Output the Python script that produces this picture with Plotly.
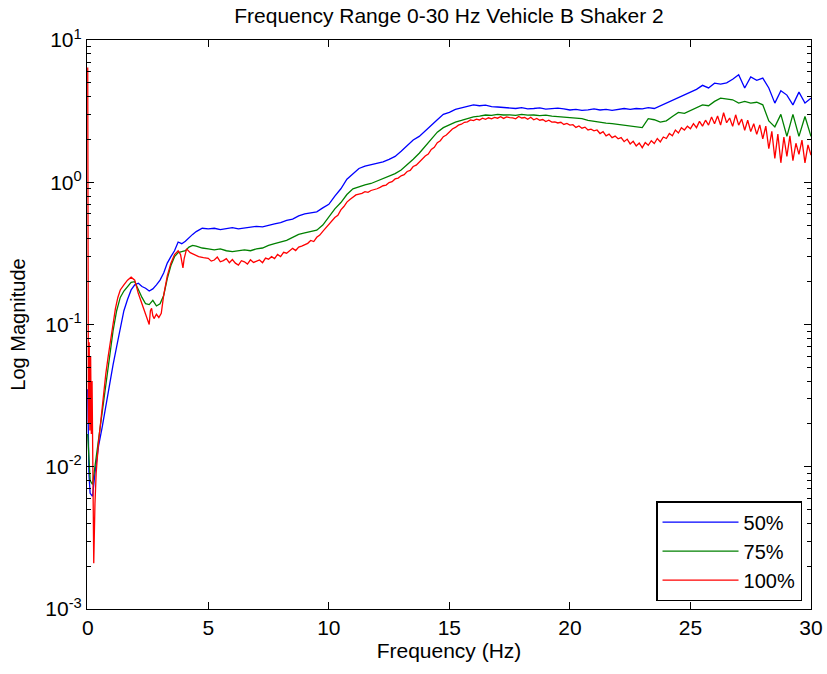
import plotly.graph_objects as go

# ---------------- data ----------------
freq_low = [0, 0.05, 0.1, 0.2, 0.3, 0.45, 0.6, 0.75, 0.9, 1.05,
            1.2, 1.35, 1.5, 1.65, 1.8, 1.95, 2.1, 2.25, 2.4, 2.55,
            2.7, 2.85, 3.0, 3.15, 3.3, 3.45, 3.6, 3.75, 3.9, 4.05,
            4.2, 4.35, 4.5, 4.75]
freq_high = [5.0 + 0.25 * i for i in range(101)]
freq_bg = freq_low + freq_high

mag_50 = [
    0.035, 0.009, 0.0065, 0.0062, 0.009, 0.014, 0.019, 0.027, 0.038, 0.052,
    0.07, 0.095, 0.125, 0.15, 0.175, 0.19, 0.195, 0.185, 0.18, 0.172,
    0.178, 0.19, 0.205, 0.23, 0.27, 0.3, 0.33, 0.38, 0.37, 0.385,
    0.41, 0.43, 0.45, 0.475,
    # 5.0 - 7.25
    0.47, 0.475, 0.465, 0.47, 0.48, 0.47, 0.475, 0.48, 0.49, 0.485,
    # 7.5 - 9.75
    0.5, 0.51, 0.52, 0.54, 0.55, 0.58, 0.6, 0.61, 0.62, 0.66,
    # 10 - 12.25
    0.7, 0.8, 0.9, 1.05, 1.15, 1.25, 1.3, 1.33, 1.36, 1.39,
    # 12.5 - 14.75
    1.45, 1.52, 1.65, 1.8, 1.98, 2.1, 2.3, 2.55, 2.75, 3.0,
    # 15 - 17.25
    3.1, 3.25, 3.35, 3.42, 3.5, 3.45, 3.48, 3.4, 3.38, 3.35,
    # 17.5 - 19.75
    3.32, 3.3, 3.35, 3.28, 3.3, 3.33, 3.27, 3.3, 3.32, 3.28,
    # 20 - 22.25
    3.22, 3.25, 3.2, 3.23, 3.28, 3.22, 3.25, 3.2, 3.27, 3.3,
    # 22.5 - 24.75
    3.25, 3.3, 3.28, 3.35, 3.3, 3.45, 3.6, 3.8, 3.95, 4.15,
    # 25 - 27.25
    4.3, 4.5, 4.8, 4.6, 4.97, 4.9, 5.0, 5.3, 5.7, 4.6,
    # 27.5 - 29.75
    5.5, 5.2, 5.4, 4.6, 3.6, 4.4, 4.1, 3.5, 4.3, 3.6,
    # 30
    3.9,
]

mag_75 = [
    0.017, 0.01, 0.008, 0.0075, 0.01, 0.016, 0.024, 0.037, 0.055, 0.09,
    0.125, 0.155, 0.172, 0.185, 0.198, 0.2, 0.175, 0.155, 0.14, 0.138,
    0.148, 0.135, 0.14, 0.16, 0.21, 0.26, 0.3, 0.32, 0.325, 0.33,
    0.35, 0.36, 0.355, 0.345,
    # 5.0 - 7.25
    0.34, 0.335, 0.34, 0.33, 0.325, 0.33, 0.335, 0.33, 0.34, 0.345,
    # 7.5 - 9.75
    0.36, 0.37, 0.38, 0.39, 0.41, 0.43, 0.44, 0.45, 0.46, 0.5,
    # 10 - 12.25
    0.57, 0.65, 0.72, 0.82, 0.9, 0.93, 0.96, 0.98, 1.02, 1.05,
    # 12.5 - 14.75
    1.1, 1.15, 1.22, 1.32, 1.45, 1.6, 1.8, 2.0, 2.25, 2.42,
    # 15 - 17.25
    2.55, 2.65, 2.72, 2.8, 2.88, 2.92, 2.97, 2.95, 3.0, 2.97,
    # 17.5 - 19.75
    2.98, 2.95, 3.0, 2.96, 2.97, 2.94, 2.96, 2.92, 2.9, 2.88,
    # 20 - 22.25
    2.85, 2.82, 2.8, 2.72, 2.68, 2.62, 2.6, 2.58, 2.55, 2.5,
    # 22.5 - 24.75
    2.48, 2.45, 2.42, 2.8, 2.75, 2.65, 2.7, 2.9, 3.1, 3.05,
    # 25 - 27.25
    3.2, 3.35, 3.5, 3.45, 3.7, 3.9, 3.85, 3.8, 3.6, 3.7,
    # 27.5 - 29.75
    3.6, 3.65, 3.5, 2.7, 2.45, 3.0, 2.1, 3.0, 2.1, 2.9,
    # 30
    2.1,
]

freq_red_low = [0, 0.03, 0.06, 0.09, 0.12, 0.15, 0.18, 0.21, 0.25, 0.3,
                0.35, 0.45, 0.55, 0.65, 0.75, 0.85, 0.95, 1.05, 1.15, 1.25,
                1.35, 1.5, 1.65, 1.8, 1.95, 2.1, 2.25, 2.4, 2.5, 2.55,
                2.6, 2.65, 2.7, 2.75, 2.85, 2.95, 3.05, 3.15, 3.3, 3.45,
                3.6, 3.75, 3.85, 3.95, 4.0, 4.1, 4.25, 4.4, 4.6, 4.8]
freq_red_high = [5.0 + 0.125 * i for i in range(201)]
freq_red = freq_red_low + freq_red_high

mag_100 = [
    6.4, 0.02, 0.075, 0.018, 0.06, 0.017, 0.04, 0.012, 0.0021, 0.0055,
    0.009, 0.015, 0.022, 0.032, 0.045, 0.06, 0.078, 0.095, 0.13, 0.155,
    0.175, 0.19, 0.205, 0.215, 0.205, 0.165, 0.14, 0.12, 0.105, 0.1,
    0.125, 0.13, 0.115, 0.11, 0.118, 0.112, 0.12, 0.16, 0.22, 0.27,
    0.31, 0.33, 0.31, 0.25, 0.29, 0.34, 0.32, 0.31, 0.3, 0.295,
    # 5
    0.292, 0.279, 0.284, 0.298, 0.276, 0.281, 0.29, 0.272,
    # 6
    0.286, 0.27, 0.262, 0.281, 0.276, 0.266, 0.285, 0.273,
    # 7
    0.277, 0.284, 0.272, 0.293, 0.288, 0.3, 0.291, 0.311,
    # 8
    0.3, 0.322, 0.317, 0.33, 0.343, 0.331, 0.35, 0.356,
    # 9
    0.364, 0.372, 0.39, 0.383, 0.41, 0.425, 0.452, 0.478,
    # 10
    0.5, 0.525, 0.565, 0.585, 0.64, 0.675, 0.725, 0.755,
    # 11
    0.785, 0.815, 0.825, 0.835, 0.86, 0.85, 0.875, 0.885,
    # 12
    0.9, 0.92, 0.945, 0.955, 0.995, 1.01, 1.055, 1.07,
    # 13
    1.11, 1.13, 1.19, 1.21, 1.29, 1.32, 1.39, 1.44,
    # 14
    1.53, 1.58, 1.7, 1.76, 1.9, 1.96, 2.09, 2.15,
    # 15
    2.27, 2.37, 2.43, 2.52, 2.56, 2.64, 2.66, 2.74,
    # 16
    2.71, 2.78, 2.74, 2.82, 2.77, 2.84, 2.79, 2.86,
    # 17
    2.82, 2.89, 2.81, 2.88, 2.85, 2.84, 2.79, 2.9,
    # 18
    2.83, 2.85, 2.77, 2.86, 2.75, 2.81, 2.73, 2.76,
    # 19
    2.67, 2.73, 2.65, 2.66, 2.61, 2.64, 2.55, 2.59,
    # 20
    2.52, 2.54, 2.43, 2.49, 2.4, 2.44, 2.33, 2.36,
    # 21
    2.3, 2.33, 2.2, 2.27, 2.12, 2.18, 2.06, 2.11,
    # 22
    2.02, 2.06, 1.93, 2.01, 1.86, 1.94, 1.8, 1.89,
    # 23
    1.75, 1.9, 1.82, 1.96, 1.87, 2.03, 1.92, 2.08,
    # 24
    2.03, 2.2, 2.12, 2.33, 2.22, 2.42, 2.33, 2.48,
    # 25
    2.38, 2.58, 2.42, 2.68, 2.48, 2.73, 2.52, 2.88,
    # 26
    2.58, 2.92, 2.52, 3.08, 2.62, 2.83, 2.47, 2.98,
    # 27
    2.52, 2.78, 2.32, 2.73, 2.27, 2.58, 2.17, 2.53,
    # 28
    2.02, 2.48, 1.72, 2.28, 1.47, 2.18, 1.37, 2.08,
    # 29
    1.52, 2.12, 1.42, 1.88, 1.57, 1.98, 1.37, 1.83,
    # 30
    1.55,
]

series_names = ["50%", "75%", "100%"]
series_colors = ["#0000FF", "#008000", "#FF0000"]

x_ticks = [0, 5, 10, 15, 20, 25, 30]
y_tickvals = [1e-3, 1e-2, 1e-1, 1e0, 1e1]
y_ticktext = ["10<sup>-3</sup>", "10<sup>-2</sup>", "10<sup>-1</sup>",
              "10<sup>0</sup>", "10<sup>1</sup>"]

# ---------------- figure ----------------
FONT = "Liberation Sans, Arial, sans-serif"
FS = 21
fig = go.Figure()
for fx, fy, nm, col in [(freq_bg, mag_50, series_names[0], series_colors[0]),
                        (freq_bg, mag_75, series_names[1], series_colors[1]),
                        (freq_red, mag_100, series_names[2], series_colors[2])]:
    fig.add_trace(go.Scatter(x=fx, y=fy, mode="lines", name=nm,
                             line=dict(color=col, width=1.3)))

# empty helper trace so the right-hand axis (mirrored minor ticks) is drawn
fig.add_trace(go.Scatter(x=[], y=[], yaxis="y2", showlegend=False,
                         hoverinfo="skip"))

axis_common = dict(
    showline=True, linecolor="black", linewidth=1.2,
    ticks="inside", tickcolor="black", ticklen=7, tickwidth=1,
    showgrid=False, zeroline=False, automargin=False,
    tickfont=dict(family=FONT, size=FS, color="black"),
)
minor_y = dict(ticks="inside", ticklen=4, tickcolor="black",
               tickwidth=1, dtick="D1", showgrid=False)

fig.update_layout(
    width=827, height=674,
    margin=dict(l=87, r=16, t=40, b=65, autoexpand=False),
    paper_bgcolor="white", plot_bgcolor="white",
    title=dict(text="Frequency Range 0-30 Hz Vehicle B Shaker 2",
               x=(87 + 811) / 2 / 827, xanchor="center", y=1 - 16 / 674,
               yanchor="middle",
               font=dict(family=FONT, size=FS, color="black")),
    xaxis=dict(range=[-0.03, 30], tickvals=x_ticks, mirror="ticks",
               title=dict(text="Frequency (Hz)", standoff=4,
                          font=dict(family=FONT, size=FS, color="black")),
               **axis_common),
    yaxis=dict(type="log", range=[-3, 1], tickvals=y_tickvals,
               ticktext=y_ticktext, mirror=True,
               title=dict(text="Log Magnitude", standoff=14,
                          font=dict(family=FONT, size=FS - 1, color="black")),
               minor=minor_y,
               **axis_common),
    yaxis2=dict(type="log", range=[-3, 1], overlaying="y", side="right",
                anchor="x", tickvals=y_tickvals, showticklabels=False,
                showline=False, ticks="inside", tickcolor="black",
                ticklen=7, tickwidth=1, showgrid=False, zeroline=False,
                automargin=False, minor=minor_y),
    legend=dict(x=0.9876, y=0.014, xanchor="right", yanchor="bottom",
                bgcolor="white", bordercolor="black", borderwidth=1.5,
                font=dict(family=FONT, size=FS - 1, color="black"),
                itemwidth=76, tracegroupgap=4),
    showlegend=True,
)

fig.write_html("out.html")
